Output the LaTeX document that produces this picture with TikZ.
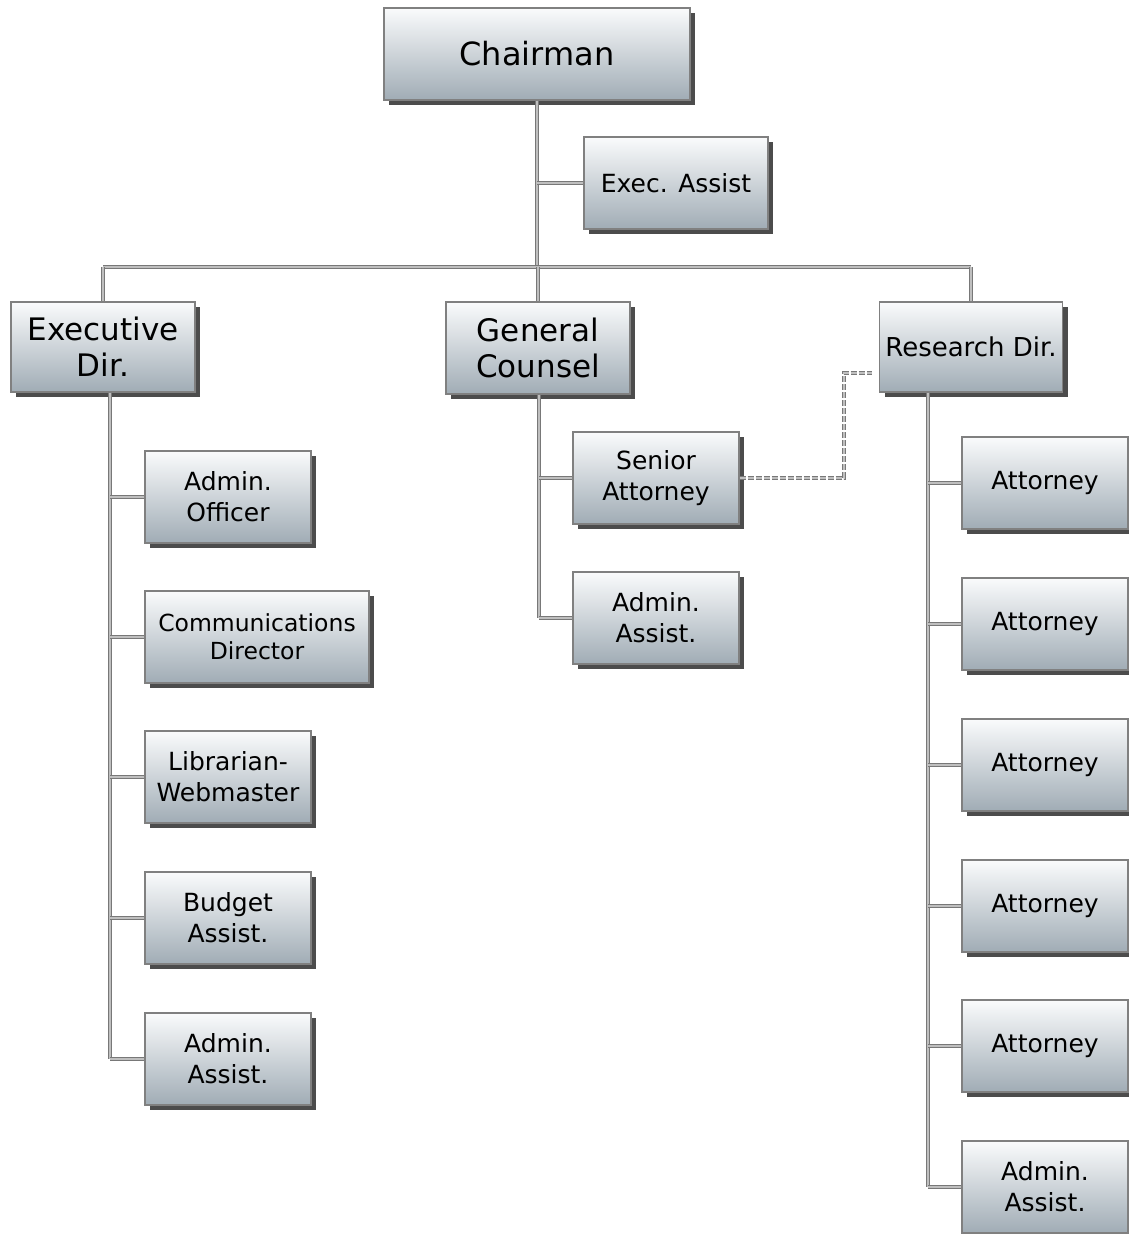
\documentclass[tikz,border=0pt]{standalone}
\usepackage{fontspec}
\setmainfont{DejaVu Sans}
\usetikzlibrary{shadows, positioning}

\definecolor{boxtop}{RGB}{250,251,252}
\definecolor{boxbot}{RGB}{160,172,181}
\definecolor{boxline}{RGB}{128,128,128}
\definecolor{linkgray}{RGB}{120,120,120}

\tikzset{
  box/.style={draw=boxline, line width=1.4pt, top color=boxtop, bottom color=boxbot,
    minimum width=166pt, minimum height=92pt, align=center, inner sep=2pt,
    font=\fontsize{25}{31}\selectfont,
    drop shadow={shadow xshift=5pt, shadow yshift=-5pt, fill=black!70, opacity=1}},
  bigbox/.style={box, minimum width=184pt, font=\fontsize{31}{36}\selectfont},
  link/.style={draw=linkgray, line width=1.4pt, double=black!25, double distance=1.4pt},
  dlink/.style={link, dashed, dash pattern=on 6pt off 2pt}
}

\begin{document}
\begin{tikzpicture}[x=1pt, y=-1pt]
    \useasboundingbox (0,0) rectangle (1128,1234);

    % Top level
    \node[bigbox, minimum width=306pt, font=\fontsize{32}{36}\selectfont]
        (chair) at (537,54) {Chairman};
    \node[box, minimum width=184pt] (execA) at (676,183) {Exec. Assist};
    \coordinate (bus) at (539,267);

    % Directors
    \node[bigbox, minimum height=90pt] (execdir) at (103,347) {Executive\\Dir.};
    \node[bigbox] (gencoun) at (538,348) {General\\Counsel};
    \node[box, minimum width=183pt, minimum height=90pt, font=\fontsize{26}{30}\selectfont]
        (resdir) at (971,347) {Research Dir.};

    % Executive Dir. staff
    \node[box] (adof) at (228,497) {Admin.\\Officer};
    \node[box, minimum width=224pt, font=\fontsize{23.5}{28}\selectfont]
        (comm) at (257,637) {Communications\\Director};
    \node[box] (libw) at (228,777) {Librarian-\\Webmaster};
    \node[box] (budg) at (228,918) {Budget\\Assist.};
    \node[box] (edas) at (228,1059) {Admin.\\Assist.};

    % General Counsel staff
    \node[box] (senatt) at (656,478) {Senior\\Attorney};
    \node[box] (gcas) at (656,618) {Admin.\\Assist.};

    % Research Dir. staff
    \foreach \i/\yy in {1/483, 2/624, 3/765, 4/906, 5/1046}
        \node[box] (att\i) at (1045,\yy) {Attorney};
    \node[box] (rdas) at (1045,1187) {Admin.\\Assist.};

    % Chairman links
    \draw[link] (chair.south) -- (chair.south |- bus);
    \draw[link] (chair.south |- execA.west) -- (execA.west);
    \draw[link] (execdir.north |- bus) -- (resdir.north |- bus);
    \foreach \n in {execdir, gencoun, resdir}
        \draw[link] (\n.north |- bus) -- (\n.north);

    % Executive Dir. links
    \coordinate (edtop) at ([xshift=7pt]execdir.south);
    \draw[link] (edtop) -- (edtop |- edas.west);
    \foreach \n in {adof, comm, libw, budg, edas}
        \draw[link] (edtop |- \n.west) -- (\n.west);

    % General Counsel links
    \coordinate (gctop) at ([xshift=1pt]gencoun.south);
    \draw[link] (gctop) -- (gctop |- gcas.west);
    \foreach \n in {senatt, gcas}
        \draw[link] (gctop |- \n.west) -- (\n.west);

    % Research Dir. links
    \coordinate (rdtop) at ([xshift=-43pt]resdir.south);
    \draw[link] (rdtop) -- (rdtop |- rdas.west);
    \foreach \n in {att1, att2, att3, att4, att5, rdas}
        \draw[link] (rdtop |- \n.west) -- (\n.west);

    % Dotted reporting line
    \coordinate (rdin) at ([xshift=-7pt, yshift=-26pt]resdir.west);
    \draw[dlink] (senatt.east) -| ([xshift=-28pt]rdin) -- (rdin);
\end{tikzpicture}
\end{document}
